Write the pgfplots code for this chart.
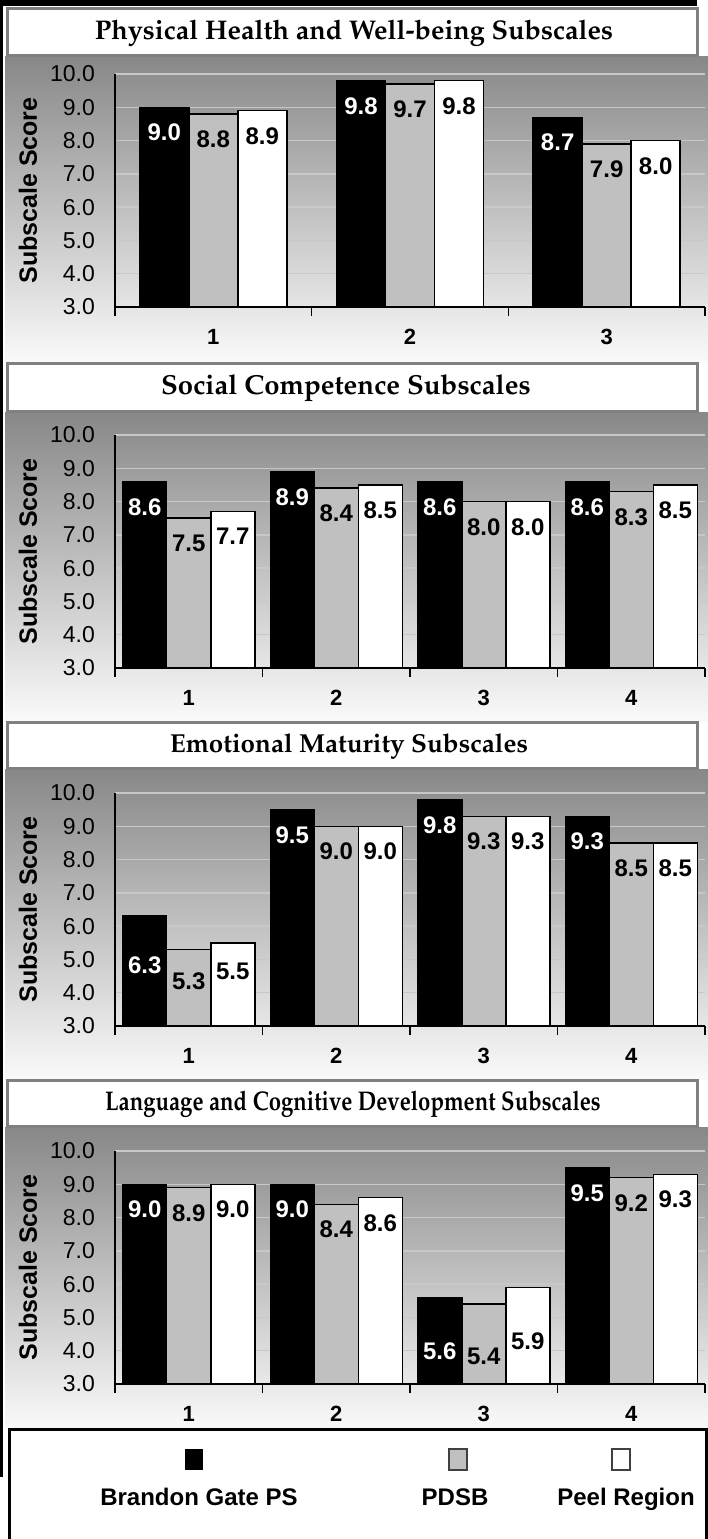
\documentclass[border=0pt]{standalone}
\usepackage[T1]{fontenc}
\usepackage{fontspec}
\setmainfont{Liberation Sans}
\usepackage{graphicx}
\usepackage{pgfplots}
\pgfplotsset{compat=1.18}
\newcommand\palb[1]{\fontencoding{T1}\fontfamily{ppl}\fontseries{b}\fontshape{n}\fontsize{#1}{#1}\selectfont}
\definecolor{bargray}{RGB}{192,192,192}
\definecolor{gridc}{RGB}{200,200,200}
\definecolor{bgtop}{RGB}{136,136,136}
\definecolor{bgbot}{RGB}{250,250,250}
\definecolor{boxgray}{RGB}{128,128,128}
\definecolor{leggray}{RGB}{64,64,64}

\pgfplotsset{
  panel/.style={
    scale only axis, width=590pt, height=233pt, anchor=south west,
    ymin=3, ymax=10, ytick={3,4,...,10},
    yticklabels={3.0,4.0,5.0,6.0,7.0,8.0,9.0,10.0},
    yticklabel style={font=\fontsize{23}{23}\selectfont, inner sep=0pt, xshift=-20pt},
    xticklabel style={font=\bfseries\fontsize{22}{22}\selectfont, inner sep=0pt, yshift=-22pt},
    /pgf/number format/assume math mode=true,
    major tick length=0pt, minor tick length=9pt, tick align=outside,
    axis x line=bottom, axis y line=left,
    axis line style={-, line width=1.6pt},
    every tick/.style={black, line width=1.5pt},
    ymajorgrids, grid style={gridc, line width=1.5pt},
    ybar=0pt,
    visualization depends on={value \thisrow{off}\as\off},
    nodes near coords={\pgfmathprintnumber[fixed,fixed zerofill,precision=1,assume math mode=true]{\pgfplotspointmeta}},
    every node near coord/.append style={font=\bfseries\fontsize{24}{24}\selectfont, anchor=north, inner sep=0pt, yshift=-16pt, yshift=-\off pt},
    ylabel={Subscale Score},
    every axis y label/.style={at={(axis description cs:-0.1475,0.5)}, rotate=90, font=\bfseries\fontsize{25}{25}\selectfont, anchor=center},
  },
  bgps/.style={fill=black, draw=black, line width=1.5pt, every node near coord/.append style={text=white}},
  pdsb/.style={fill=bargray, draw=black, line width=1.5pt, every node near coord/.append style={text=black}},
  peel/.style={fill=white, draw=black, line width=1.5pt, every node near coord/.append style={text=black}},
}

\begin{document}
\begin{tikzpicture}[x=1pt,y=1pt]
\useasboundingbox (0,0) rectangle (708,1539);
% frame
\fill[black] (0,1539) rectangle (697,1533);
\fill[black] (0,1539) rectangle (3,62);
% panel backgrounds
\shade[top color=bgtop, bottom color=bgbot] (5,1482) rectangle (708,1176);
\shade[top color=bgtop, bottom color=bgbot] (5,1126) rectangle (708,817);
\shade[top color=bgtop, bottom color=bgbot] (5,769) rectangle (708,459);
\shade[top color=bgtop, bottom color=bgbot] (5,411) rectangle (708,109);
% title boxes
\draw[boxgray, line width=3pt, fill=white] (7,1530) rectangle (697,1483);
\node[font=\palb{27}] at (354,1506) {Physical Health and Well-being Subscales};
\draw[boxgray, line width=3pt, fill=white] (7,1175) rectangle (697,1127);
\node[font=\palb{27.5}] at (346,1151) {Social Competence Subscales};
\draw[boxgray, line width=3pt, fill=white] (7,816) rectangle (697,770);
\node[font=\palb{26}] at (349,793) {Emotional Maturity Subscales};
\draw[boxgray, line width=3pt, fill=white] (7,458) rectangle (697,412);
\node[font=\palb{27}] at (353,435) {\scalebox{0.82}[1]{Language and Cognitive Development Subscales}};

% Panel 1
\begin{axis}[panel, at={(115pt,1232pt)}, bar width=49pt,
  xmin=0.5, xmax=3.5, xtick={1,2,3}, xticklabels={1,2,3}, minor xtick={0.5,1.5,2.5,3.5}]
\addplot[bgps] table[row sep=\\] {x y off\\ 1 9.0 0\\ 2 9.8 0\\ 3 8.7 0\\};
\addplot[pdsb] table[row sep=\\] {x y off\\ 1 8.8 0\\ 2 9.7 0\\ 3 7.9 0\\};
\addplot[peel] table[row sep=\\] {x y off\\ 1 8.9 0\\ 2 9.8 0\\ 3 8.0 0\\};
\end{axis}

% Panel 2
\begin{axis}[panel, at={(115pt,871pt)}, bar width=44pt,
  xmin=0.5, xmax=4.5, xtick={1,2,3,4}, xticklabels={1,2,3,4}, minor xtick={0.5,1.5,2.5,3.5,4.5}]
\addplot[bgps] table[row sep=\\] {x y off\\ 1 8.6 0\\ 2 8.9 0\\ 3 8.6 0\\ 4 8.6 0\\};
\addplot[pdsb] table[row sep=\\] {x y off\\ 1 7.5 0\\ 2 8.4 0\\ 3 8.0 0\\ 4 8.3 0\\};
\addplot[peel] table[row sep=\\] {x y off\\ 1 7.7 0\\ 2 8.5 0\\ 3 8.0 0\\ 4 8.5 0\\};
\end{axis}

% Panel 3
\begin{axis}[panel, at={(115pt,513pt)}, bar width=44pt,
  xmin=0.5, xmax=4.5, xtick={1,2,3,4}, xticklabels={1,2,3,4}, minor xtick={0.5,1.5,2.5,3.5,4.5}]
\addplot[bgps] table[row sep=\\] {x y off\\ 1 6.3 24\\ 2 9.5 0\\ 3 9.8 0\\ 4 9.3 0\\};
\addplot[pdsb] table[row sep=\\] {x y off\\ 1 5.3 7\\ 2 9.0 0\\ 3 9.3 0\\ 4 8.5 0\\};
\addplot[peel] table[row sep=\\] {x y off\\ 1 5.5 3\\ 2 9.0 0\\ 3 9.3 0\\ 4 8.5 0\\};
\end{axis}

% Panel 4
\begin{axis}[panel, at={(115pt,155pt)}, bar width=44pt,
  xmin=0.5, xmax=4.5, xtick={1,2,3,4}, xticklabels={1,2,3,4}, minor xtick={0.5,1.5,2.5,3.5,4.5}]
\addplot[bgps] table[row sep=\\] {x y off\\ 1 9.0 0\\ 2 9.0 0\\ 3 5.6 29\\ 4 9.5 0\\};
\addplot[pdsb] table[row sep=\\] {x y off\\ 1 8.9 0\\ 2 8.4 0\\ 3 5.4 27\\ 4 9.2 0\\};
\addplot[peel] table[row sep=\\] {x y off\\ 1 9.0 0\\ 2 8.6 0\\ 3 5.9 29\\ 4 9.3 0\\};
\end{axis}

% legend
\draw[black, line width=3pt, fill=white] (9,109) rectangle (706,-20);
\fill[black] (185,69) rectangle (203,90);
\draw[leggray, line width=2.5pt, fill=bargray] (449,69) rectangle (467,90);
\draw[leggray, line width=2.5pt, fill=white] (612,69) rectangle (630,90);
\node[font=\bfseries\fontsize{24}{24}\selectfont, anchor=base] at (199,33) {Brandon Gate PS};
\node[font=\bfseries\fontsize{24}{24}\selectfont, anchor=base] at (455,33) {PDSB};
\node[font=\bfseries\fontsize{24}{24}\selectfont, anchor=base] at (626,33) {Peel Region};
\end{tikzpicture}
\end{document}
